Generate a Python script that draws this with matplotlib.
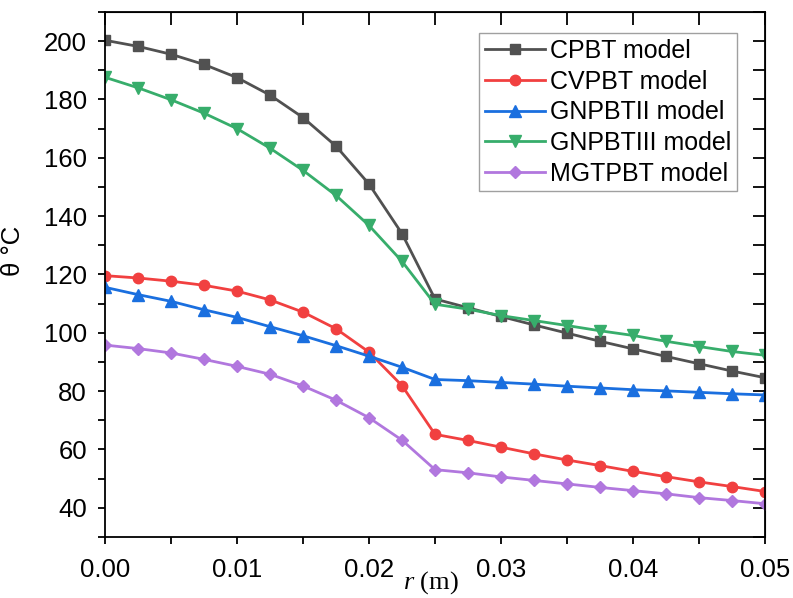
import numpy as np
import matplotlib
matplotlib.use("Agg")
import matplotlib.pyplot as plt
from matplotlib.ticker import MultipleLocator

# 数据
r = [0.0, 0.0025, 0.005, 0.0075, 0.01, 0.0125, 0.015, 0.0175, 0.02, 0.0225, 0.025,
     0.0275, 0.03, 0.0325, 0.035, 0.0375, 0.04, 0.0425, 0.045, 0.0475, 0.05]

cpbt = [200.3, 198.2, 195.5, 192.0, 187.5, 181.5, 173.8, 164.0, 151.0, 134.0, 111.6,
        108.6, 105.6, 102.7, 99.9, 97.1, 94.5, 91.9, 89.4, 86.9, 84.6]
cvpbt = [119.6, 118.8, 117.7, 116.3, 114.3, 111.3, 107.1, 101.4, 93.4, 81.9, 65.2,
         63.1, 60.8, 58.5, 56.4, 54.5, 52.5, 50.7, 48.9, 47.3, 45.6]
gnpbt2 = [115.6, 113.1, 110.8, 107.9, 105.3, 102.1, 99.0, 95.6, 92.0, 88.2, 84.0,
          83.6, 83.0, 82.4, 81.7, 81.1, 80.5, 80.1, 79.6, 79.1, 78.7]
gnpbt3 = [187.6, 184.0, 179.9, 175.3, 170.0, 163.3, 155.7, 147.1, 136.8, 124.5, 109.8,
          108.1, 105.9, 104.2, 102.5, 100.7, 99.1, 97.1, 95.3, 93.6, 92.3]
mgtpbt = [95.8, 94.6, 93.1, 90.9, 88.5, 85.8, 81.8, 76.9, 70.9, 63.2, 53.1,
          52.0, 50.6, 49.4, 48.2, 47.0, 45.9, 44.8, 43.5, 42.5, 41.4]

labels = ["CPBT model", "CVPBT model", "GNPBTII model", "GNPBTIII model", "MGTPBT model"]
series = [cpbt, cvpbt, gnpbt2, gnpbt3, mgtpbt]
colors = ["#515151", "#F14040", "#1A6FDF", "#37AD6B", "#B177DE"]
markers = ["s", "o", "^", "v", "D"]
msizes = [7, 7.5, 8, 8, 6.5]

plt.rcParams['font.family'] = ['Liberation Sans', 'DejaVu Sans']
plt.rcParams['mathtext.fontset'] = 'custom'
plt.rcParams['mathtext.it'] = 'Liberation Serif:italic'
plt.rcParams['mathtext.rm'] = 'Liberation Serif'

fig = plt.figure(figsize=(7.93, 5.98), dpi=100)
ax = fig.add_axes([0.1324, 0.102, 0.8323, 0.878])

for y, lab, c, m, ms in zip(series, labels, colors, markers, msizes):
    ax.plot(r, y, color=c, marker=m, markersize=ms, linewidth=2.0, label=lab)

ax.set_xlim(0, 0.05)
ax.set_ylim(30, 210)
ax.xaxis.set_major_locator(MultipleLocator(0.01))
ax.xaxis.set_minor_locator(MultipleLocator(0.005))
ax.yaxis.set_major_locator(MultipleLocator(20))
ax.yaxis.set_minor_locator(MultipleLocator(10))
ax.set_xticklabels([f"{v:.2f}" for v in ax.get_xticks()])
ax.tick_params(which='both', direction='out', length=5, width=1.3, labelsize=18.5)
ax.tick_params(axis='x', pad=10)
ax.tick_params(axis='y', pad=8)

for s in ax.spines.values():
    s.set_linewidth(1.3)

# 上、右方向的刻度(朝内)
top = ax.secondary_xaxis('top')
top.xaxis.set_major_locator(MultipleLocator(0.005))
top.tick_params(direction='in', length=9, width=1.3, labeltop=False)
right = ax.secondary_yaxis('right')
right.yaxis.set_major_locator(MultipleLocator(10))
right.tick_params(direction='in', length=9, width=1.3, labelright=False)

ax.set_ylabel("θ °C", fontsize=18.5)
ax.yaxis.set_label_coords(-0.121, 0.545)
ax.set_xlabel(r"$r$ (m)", fontsize=19, family='Liberation Serif')
ax.xaxis.set_label_coords(0.494, -0.061)

leg = ax.legend(loc='upper right', bbox_to_anchor=(0.957, 0.959), fontsize=18,
                frameon=True, fancybox=False, edgecolor='#888888',
                handlelength=2.4, handletextpad=0.2, borderpad=0.22,
                labelspacing=0.27, borderaxespad=0)
leg.get_frame().set_linewidth(1.0)

fig.savefig("out.png", dpi=100)
